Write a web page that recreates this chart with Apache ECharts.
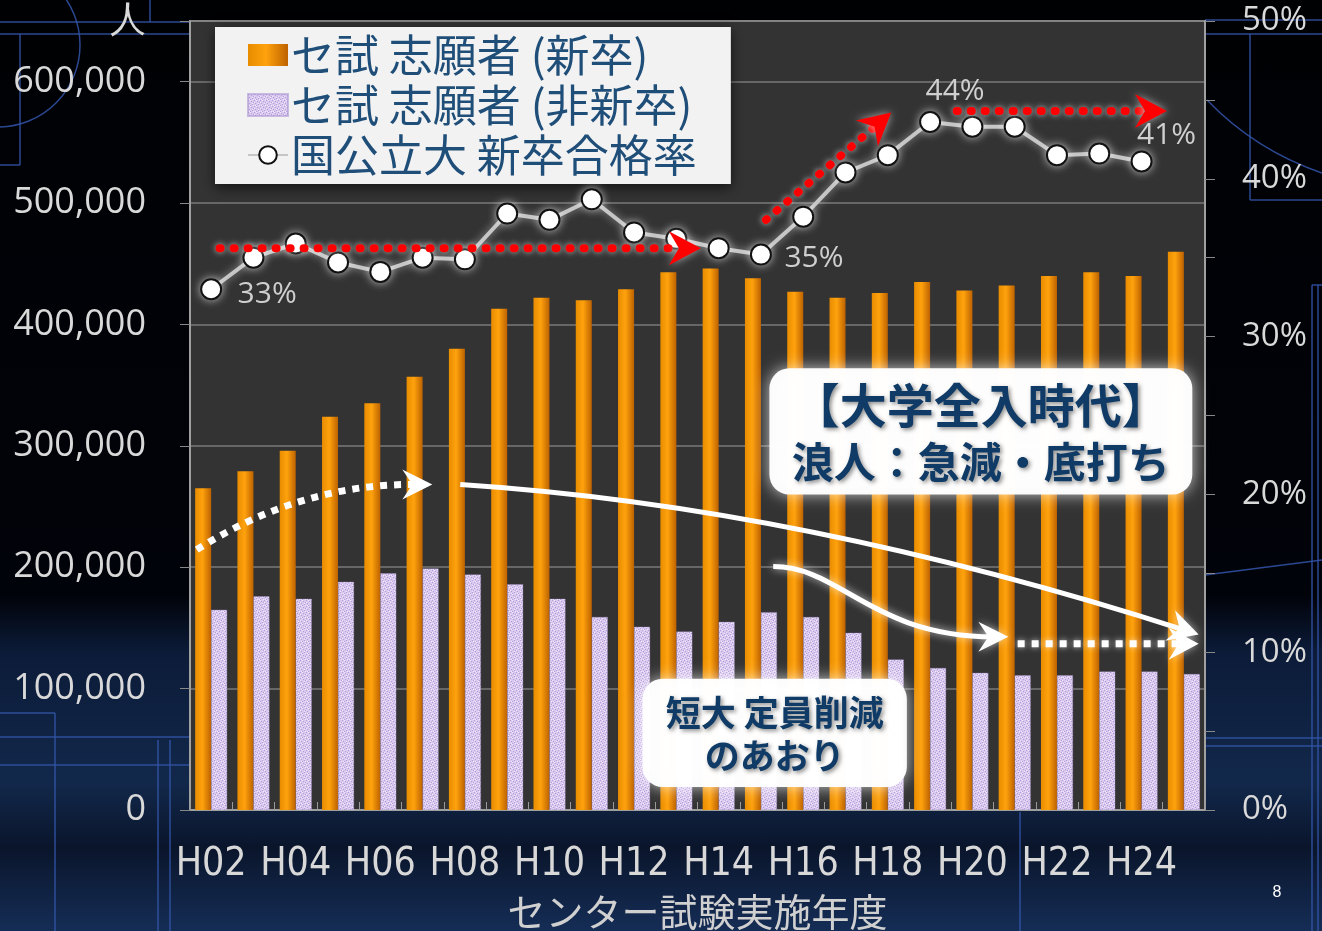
<!DOCTYPE html>
<html><head><meta charset="utf-8">
<script src="https://cdn.jsdelivr.net/npm/echarts@6/dist/echarts.min.js"></script>
<style>
html,body{margin:0;padding:0;width:1322px;height:931px;overflow:hidden;
background:linear-gradient(180deg,#000103 0%,#01030a 64%,#0c1b38 70%,#12284b 84%,#0a152b 91%,#152d56 100%);}
#c{width:1322px;height:931px;}
</style></head><body><div id="c"></div>
<script>
// ---- data ----
const categories = ['H02','H03','H04','H05','H06','H07','H08','H09','H10','H11','H12','H13',
                    'H14','H15','H16','H17','H18','H19','H20','H21','H22','H23','H24','H25'];
const applicantsNew = [265000,279000,296000,324000,335000,357000,380000,413000,422000,420000,429000,443000,
                       446000,438000,427000,422000,426000,435000,428000,432000,440000,443000,440000,460000];
const applicantsOther = [165000,176000,174000,188000,195000,199000,194000,186000,174000,159000,151000,147000,
                         155000,163000,159000,146000,124000,117000,113000,111000,111000,114000,114000,112000];
const passRate = [33.0,35.0,35.9,34.7,34.1,35.0,34.9,37.8,37.4,38.7,36.6,36.2,
                  35.6,35.2,37.6,40.4,41.5,43.6,43.3,43.3,41.5,41.6,41.1,null];
const seriesNames = ['セ試 志願者 (新卒)','セ試 志願者 (非新卒)','国公立大 新卒合格率'];
const xAxisTitle = 'センター試験実施年度';
const leftUnit = '人';
const note1 = ['【大学全入時代】','浪人：急減・底打ち'];
const note2 = ['短大 定員削減','のあおり'];

// ---- styles ----
const labelOffsets = {0:[56,5], 13:[53,4], 17:[25,-31], 22:[25,-26]};
const chart = echarts.init(document.getElementById('c'), null, {renderer:'canvas'});

// speckled lavender pattern
const pc = document.createElement('canvas'); pc.width = 6; pc.height = 6;
const g = pc.getContext('2d');
g.fillStyle = '#d9c9ef'; g.fillRect(0,0,6,6);
g.fillStyle = '#b49bdb';
[[0,0],[3,1],[1,3],[4,4],[5,2],[2,5]].forEach(p=>g.fillRect(p[0],p[1],1,1));
g.fillStyle = '#f1e9fa';
[[2,0],[0,2],[4,3],[1,5],[5,5]].forEach(p=>g.fillRect(p[0],p[1],1,1));

const orange = new echarts.graphic.LinearGradient(0,0,1,0,[
  {offset:0,color:'#e88c00'},{offset:0.45,color:'#ffa20d'},{offset:1,color:'#bd6200'}]);

const lineData = passRate.map((v,i)=> labelOffsets[i] ? {value:v, label:{show:true, offset:labelOffsets[i]}} : v);

const option = {
  backgroundColor:'transparent',
  animation:false,
  grid:{left:190, right:117, top:21, bottom:121, show:true, backgroundColor:'#333333',
        borderColor:'#a0a0a0', borderWidth:2, containLabel:false, outerBoundsMode:'none'},
  legend:{
    orient:'vertical', left:215, top:27, padding:[5,34,6,32], itemGap:4,
    itemWidth:40, itemHeight:22, backgroundColor:'#f2f2f2',
    shadowBlur:12, shadowColor:'rgba(0,0,0,0.6)', shadowOffsetY:4,
    textStyle:{fontSize:44, color:'#1f4e79', fontFamily:'"Noto Sans CJK JP"', lineHeight:46, padding:[0,0,0,-2]},
    data:[{name:seriesNames[0], icon:'rect'},{name:seriesNames[1], icon:'rect'},{name:seriesNames[2]}]
  },
  xAxis:{
    type:'category', data:categories,
    axisLine:{lineStyle:{color:'#a0a0a0', width:2}},
    axisTick:{show:true, inside:true, length:8, interval:0, lineStyle:{color:'#999'}},
    axisLabel:{interval:1, margin:35, color:'#d8d8d8', fontSize:39,
               fontFamily:'"Liberation Sans Narrow","DejaVu Sans Condensed",sans-serif'},
    name:xAxisTitle, nameLocation:'middle', nameGap:83,
    nameTextStyle:{color:'#d0d0d0', fontSize:38, fontFamily:'"Noto Sans CJK JP"'}
  },
  yAxis:[
    {type:'value', min:0, max:650000, interval:100000,
     axisLine:{show:true, lineStyle:{color:'#a0a0a0', width:2}},
     axisTick:{show:true, length:10, lineStyle:{color:'#888'}},
     splitLine:{show:true, lineStyle:{color:'#7a7a7a', width:1.5}},
     axisLabel:{margin:44, color:'#d9d9d9', fontSize:36, fontFamily:'"Open Sans"',
       formatter:v=> v===650000 ? leftUnit : v.toLocaleString('en-US')}},
    {type:'value', min:0, max:50, interval:5, position:'right',
     axisLine:{show:true, lineStyle:{color:'#a0a0a0', width:2}},
     axisTick:{show:true, length:10, lineStyle:{color:'#888'}},
     splitLine:{show:false},
     axisLabel:{margin:37, color:'#d9d9d9', fontSize:33, fontFamily:'"Open Sans"',
       formatter:v=> (Math.round(v)%10===0) ? Math.round(v)+'%' : ''}}
  ],
  series:[
    {name:seriesNames[0], type:'bar', yAxisIndex:0, data:applicantsNew, barWidth:16, barGap:'0%',
     itemStyle:{color:orange}},
    {name:seriesNames[1], type:'bar', yAxisIndex:0, data:applicantsOther, barWidth:16, barGap:'0%',
     itemStyle:{color:{image:pc, repeat:'repeat'}, borderColor:'rgba(170,150,210,0.6)', borderWidth:0.5}},
    {name:seriesNames[2], type:'line', yAxisIndex:1, data:lineData, z:5,
     symbol:'circle', symbolSize:20, showAllSymbol:true, connectNulls:false,
     lineStyle:{color:'#c6c6c6', width:4, shadowBlur:8, shadowColor:'rgba(255,255,255,0.5)'},
     itemStyle:{color:'#ffffff', borderColor:'#111', borderWidth:2, shadowBlur:8, shadowColor:'rgba(255,255,255,0.6)'},
     label:{show:false, position:'inside', color:'#cfcfcf', fontSize:30, fontFamily:'"Open Sans"',
            formatter:p=>Math.round(p.value)+'%'}}
  ]
};
chart.setOption(option);

// ---- annotations (anchored in data coordinates) ----
const x0 = chart.convertToPixel({xAxisIndex:0}, categories[0]);
const step = chart.convertToPixel({xAxisIndex:0}, categories[1]) - x0;
function P(idx, val, axis){ return [x0 + idx*step, chart.convertToPixel({yAxisIndex:axis}, val)]; }
function head(tip, from, L, W, N, color, glow){
  const dx=tip[0]-from[0], dy=tip[1]-from[1], len=Math.hypot(dx,dy), ux=dx/len, uy=dy/len, nx=-uy, ny=ux;
  const bx=tip[0]-ux*L, by=tip[1]-uy*L;
  return {type:'polygon', z:100, shape:{points:[tip,[bx+nx*W,by+ny*W],[tip[0]-ux*(L-N),tip[1]-uy*(L-N)],[bx-nx*W,by-ny*W]]},
          style:{fill:color, shadowBlur:glow?8:0, shadowColor:'rgba(255,255,255,0.6)'}};
}
function back(tip, from, d){
  const dx=tip[0]-from[0], dy=tip[1]-from[1], len=Math.hypot(dx,dy);
  return [tip[0]-dx/len*d, tip[1]-dy/len*d];
}
const G = [];
// red dotted arrows (rate axis)
[[[0.2,35.6],[11.58,35.6]],[[13.12,37.4],[16.08,44.2]],[[17.63,44.3],[22.6,44.3]]].forEach(a=>{
  const s=P(a[0][0],a[0][1],1), t=P(a[1][0],a[1][1],1), e=back(t,s,24);
  G.push({type:'line', z:99, shape:{x1:s[0],y1:s[1],x2:e[0],y2:e[1]},
          style:{stroke:'#ff0000', lineWidth:8, lineDash:[1,13], lineCap:'round',
                 shadowBlur:6, shadowColor:'rgba(255,255,255,0.7)'}});
  G.push(head(t,s,32,17,10,'#ff0000',true));
});
// white dotted curve
(function(){
  const s=P(-0.34,214500,0), c=P(2.1,268200,0), t=P(5.23,268200,0), e=back(t,c,20);
  G.push({type:'bezierCurve', z:99, shape:{x1:s[0],y1:s[1],x2:e[0],y2:e[1],cpx1:c[0],cpy1:c[1]},
          style:{stroke:'#ffffff', lineWidth:7, lineDash:[7,7], fill:null}});
  G.push(head(t,c,30,15,10,'#ffffff',false));
})();
// white solid curve
(function(){
  const s=P(5.89,268200,0), c=P(13.95,250000,0), t=P(23.35,144500,0), e=back(t,c,14);
  G.push({type:'bezierCurve', z:99, shape:{x1:s[0],y1:s[1],x2:e[0],y2:e[1],cpx1:c[0],cpy1:c[1]},
          style:{stroke:'#ffffff', lineWidth:5, fill:null}});
  G.push(head(t,c,30,16,10,'#ffffff',true));
})();
// white S curve
(function(){
  const s=P(13.29,200500,0), c1=P(14.9,200500,0), c2=P(15.61,142700,0), t=P(18.85,142700,0), e=back(t,c2,14);
  G.push({type:'bezierCurve', z:99, shape:{x1:s[0],y1:s[1],x2:e[0],y2:e[1],cpx1:c1[0],cpy1:c1[1],cpx2:c2[0],cpy2:c2[1]},
          style:{stroke:'#ffffff', lineWidth:5, fill:null, shadowBlur:8, shadowColor:'rgba(255,255,255,0.7)'}});
  G.push(head(t,c2,30,15,10,'#ffffff',true));
})();
// white dotted horizontal
(function(){
  const s=P(19.07,137000,0), t=P(23.35,137000,0), e=back(t,s,20);
  G.push({type:'line', z:99, shape:{x1:s[0],y1:s[1],x2:e[0],y2:e[1]},
          style:{stroke:'#ffffff', lineWidth:7, lineDash:[7,7], shadowBlur:6, shadowColor:'rgba(255,255,255,0.7)'}});
  G.push(head(t,s,30,16,10,'#ffffff',true));
})();
// note boxes
function box(tl, br, lines, sizes, lineYs){
  G.push({type:'rect', z:101, shape:{x:tl[0], y:tl[1], width:br[0]-tl[0], height:br[1]-tl[1], r:20},
          style:{fill:'rgba(255,255,255,0.97)', shadowBlur:16, shadowColor:'rgba(255,255,255,0.75)'}});
  lines.forEach((t,i)=>{
    G.push({type:'text', z:102, style:{text:t, x:(tl[0]+br[0])/2, y:tl[1]+lineYs[i], align:'center', verticalAlign:'middle',
      font:'bold '+sizes[i]+'px "Noto Sans CJK JP"', fill:'#0f3b66',
      textShadowBlur:4, textShadowColor:'rgba(0,0,0,0.45)', textShadowOffsetX:2, textShadowOffsetY:2}});
  });
}
box(P(13.2,363900,0), P(23.2,259900,0), note1, [47,42], [37,94]);
box(P(10.2,108100,0), P(16.45,19000,0), note2, [35,35], [34,77]);

// background blueprint decoration & page number
const deco = 'rgba(50,85,170,0.85)';
function L(x1,y1,x2,y2){ G.push({type:'line', z:-5, silent:true, shape:{x1,y1,x2,y2}, style:{stroke:deco, lineWidth:1.5}}); }
G.push({type:'arc', z:-5, silent:true, shape:{cx:-2, cy:45, r:82, startAngle:-Math.PI/2, endAngle:Math.PI/2}, style:{stroke:deco, lineWidth:1.5, fill:null}});
L(0,22,190,22); L(0,34,190,34); L(150,0,150,22); L(20,34,20,165); L(0,165,20,165);
L(1205,20,1322,20); L(1205,34,1322,34); L(1250,34,1250,200); L(1250,200,1322,200);
G.push({type:'bezierCurve', z:-5, silent:true, shape:{x1:1207,y1:100,x2:1322,y2:173,cpx1:1255,cpy1:150}, style:{stroke:deco, lineWidth:1.5, fill:null}});
L(1312,285,1312,931); L(1318,285,1318,931); L(1312,285,1322,285);
L(1205,575,1322,560); L(1205,738,1322,738); L(1205,746,1322,746);
L(0,713,55,713); L(55,713,55,931); L(0,737,190,737); L(0,765,190,765); L(158,740,158,931); L(170,740,170,931);
L(1020,812,1020,931);
G.push({type:'text', z:10, style:{text:'8', x:1277, y:893, align:'center', verticalAlign:'middle', font:'16px "Liberation Sans"', fill:'#ffffff'}});

chart.setOption({graphic:G});
</script></body></html>
